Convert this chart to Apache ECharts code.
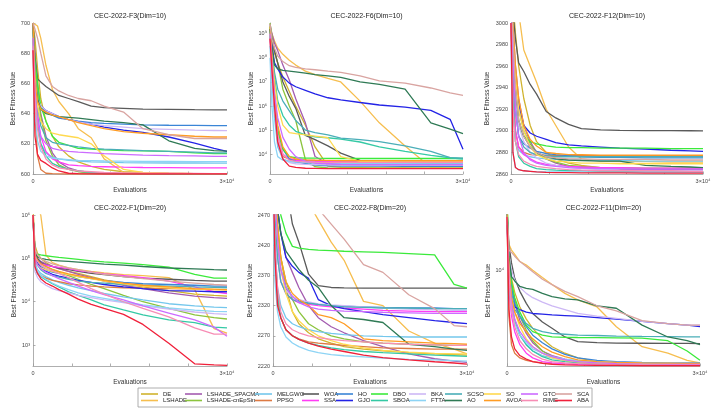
<!DOCTYPE html>
<html>
<head>
<meta charset="utf-8">
<title>CEC-2022 convergence curves</title>
<script src="https://cdn.jsdelivr.net/npm/echarts@6.0.0/dist/echarts.min.js"></script>
<style>
  html, body { margin: 0; padding: 0; background: #fff; }
  #chart { width: 724px; height: 412px; }
</style>
</head>
<body>
<div id="chart"></div>
<script>
// evaluation counts at which each curve is sampled
const evals = [0, 300, 700, 1200, 2000, 3000, 4000, 5500, 7000, 9000, 11000, 14000, 17000, 21000, 25000, 28000, 30000];

const algorithms = ['DE', 'LSHADE', 'LSHADE_SPACMA', 'LSHADE-cnEpSin', 'MELGWO', 'PPSO', 'WOA', 'SSA', 'HO', 'GJO', 'DBO',
  'SBOA', 'BKA', 'FTTA', 'SCSO', 'AO', 'SO', 'AVOA', 'GTO', 'RIME', 'SCA', 'ABA'];
const colors = ['#d0b32e', '#f6be4f', '#a45cb0', '#8cc43e', '#74c7ec', '#dd7a43', '#5a5a5a', '#ff3df5', '#3a85d6', '#2323e6', '#3bea3b',
  '#35c9a5', '#cdb8f5', '#8dd4f5', '#4aaeb8', '#2f7a55', '#ffd94f', '#ff9c24', '#cc6bff', '#f78db5', '#d9a4a1', '#f0203a'];

const titles = ['CEC-2022-F3(Dim=10)', 'CEC-2022-F6(Dim=10)', 'CEC-2022-F12(Dim=10)',
  'CEC-2022-F1(Dim=20)', 'CEC-2022-F8(Dim=20)', 'CEC-2022-F11(Dim=20)'];

const f6Ticks = [1e4, 1e5, 1e6, 1e7, 1e8, 1e9];
const f1Ticks = [1e3, 1e4, 1e5, 1e6];
const f8Ticks = [2220, 2270, 2320, 2370, 2420, 2470];
const f11Ticks = [1e4];

// one row per algorithm, same order as `algorithms`
const f3Dim10 = [
  [700, 690, 670, 650, 635, 625, 618, 612, 608, 605, 603, 601.5, 601, 600.5, 600.3, 600.2, 600.2],
  [700, 700, 698, 690, 672, 656, 648, 640, 630, 624, 610, 601, 600.3, 600.2, 600.1, 600, 600],
  [695, 680, 660, 640, 625, 614, 608, 604, 602, 601, 600.5, 600.2, 600.1, 600, 600, 600, 600],
  [690, 675, 655, 638, 622, 612, 606, 603, 601.5, 600.8, 600.4, 600.2, 600.1, 600, 600, 600, 600],
  [685, 655, 632, 620, 614, 611, 610, 609, 608.5, 608, 607.8, 607.5, 607.4, 607.3, 607.3, 607.2, 607.2],
  [682, 640, 612, 603, 600.5, 600.2, 600.1, 600, 600, 600, 600, 600, 600, 600, 600, 600, 600],
  [700, 678, 663, 661, 658, 655, 652, 650, 648, 645, 644, 643.5, 643, 642.8, 642.6, 642.5, 642.5],
  [690, 660, 640, 625, 615, 610, 608, 606, 605.5, 605, 604.8, 604.5, 604.3, 604.2, 604.1, 604, 604],
  [700, 660, 648, 645, 641, 639, 637, 636, 635, 634, 633.5, 633, 632.5, 632.3, 632.2, 632, 632],
  [700, 660, 648, 645, 642, 640, 638, 636, 634.5, 633, 631, 629, 627.5, 624.5, 620.5, 617, 615],
  [695, 675, 660, 645, 635, 625, 621, 619, 617, 616.5, 616, 615.5, 615.3, 615, 614, 613.5, 613.5],
  [690, 660, 635, 620, 612, 607, 605, 603, 602, 601, 600.5, 600.3, 600.2, 600.1, 600, 600, 600],
  [700, 665, 650, 645, 642, 640, 638, 636, 634.5, 633, 632, 631, 630, 629.5, 629, 628.8, 628.7],
  [680, 640, 622, 615, 612, 610.5, 610, 609.5, 609, 608.8, 608.6, 608.5, 608.4, 608.3, 608.2, 608.2, 608.2],
  [690, 665, 645, 632, 624, 621, 620, 619, 618, 617, 616.5, 616, 615.5, 615, 614.5, 614, 614],
  [700, 665, 650, 643, 640, 639, 638, 637.5, 637, 636, 635, 634, 632.5, 622, 617, 615.5, 615.2],
  [690, 665, 645, 635, 630, 627, 626, 625, 624, 620, 612, 603, 601, 600.5, 600.3, 600.2, 600.2],
  [700, 660, 648, 643, 641, 639, 638, 636, 634, 632, 630, 628, 627, 626, 625, 624.5, 624.5],
  [690, 655, 635, 625, 620, 617, 616, 615, 614.5, 614, 613.5, 613, 612.5, 612.2, 612, 611.7, 611.7],
  [685, 650, 630, 618, 610, 606, 604, 603, 602, 601.5, 601, 600.8, 600.6, 600.5, 600.4, 600.3, 600.3],
  [700, 696, 690, 680, 665, 658, 655, 652, 650, 648.5, 645, 641, 630, 626, 623.5, 623.5, 623.5],
  [682, 625, 613, 609, 607, 604, 602, 600.5, 600.2, 600.1, 600, 600, 600, 600, 600, 600, 600]
];

const f6Dim10 = [
  [1.6e9, 4e8, 1.6e8, 6.3e7, 1.6e7, 4e6, 1e6, 1.6e5, 2e4, 3.2e3, 2.8e3, 2.75e3, 2.7e3, 2.7e3, 2.6e3, 2.6e3, 2.6e3],
  [2e9, 1e9, 5e8, 2.5e8, 1.4e8, 7.9e7, 5e7, 2.8e7, 2e7, 1.4e7, 1e7, 1.6e6, 2e5, 2.2e4, 2.8e3, 2.6e3, 2.6e3],
  [2.5e9, 1e9, 4e8, 2e8, 5e7, 1.2e7, 2e6, 2e5, 8e3, 4e3, 3.5e3, 3.5e3, 3.5e3, 3.5e3, 3.5e3, 3.5e3, 3.5e3],
  [2.8e9, 8e8, 2e8, 6e7, 5e6, 1e6, 2.5e5, 6e3, 3e3, 2.7e3, 2.6e3, 2.6e3, 2.6e3, 2.6e3, 2.6e3, 2.6e3, 2.6e3],
  [3.2e8, 1e7, 3.2e5, 2e4, 6.3e3, 5e3, 4.6e3, 4.4e3, 4.3e3, 4.2e3, 4.2e3, 4.2e3, 4.2e3, 4.2e3, 4.2e3, 4.2e3, 4.2e3],
  [1e9, 6.3e7, 1e6, 3.2e4, 7.9e3, 6.3e3, 5.9e3, 5.6e3, 5.5e3, 5.4e3, 5.2e3, 5.2e3, 5.2e3, 5.2e3, 5.2e3, 5.2e3, 5.2e3],
  [1.6e9, 6.3e8, 2e8, 6e7, 1e7, 2.5e6, 8e5, 6e4, 4e4, 2.2e4, 1.1e4, 5.5e3, 4.8e3, 4.6e3, 4.5e3, 4.5e3, 4.5e3],
  [1e9, 3.2e7, 1e6, 6.3e4, 1e4, 6.3e3, 5.5e3, 5.2e3, 5e3, 4.9e3, 4.8e3, 4.7e3, 4.7e3, 4.7e3, 4.7e3, 4.7e3, 4.7e3],
  [1e9, 6.3e7, 2e6, 1e5, 1.6e4, 6.3e3, 5e3, 4e3, 3.5e3, 3.3e3, 3.2e3, 3.2e3, 3.2e3, 3.1e3, 3.1e3, 3.1e3, 3.1e3],
  [1.6e9, 3.2e8, 6.3e7, 3.5e7, 1.6e7, 8.9e6, 6.3e6, 4.5e6, 3.2e6, 2.2e6, 1.8e6, 1.4e6, 1.1e6, 8.9e5, 6.6e5, 2.8e5, 1.6e4],
  [2e9, 1e8, 3.2e6, 1e5, 1.6e4, 7.9e3, 7.1e3, 6.9e3, 6.8e3, 6.7e3, 6.6e3, 6.6e3, 6.6e3, 6.6e3, 6.6e3, 6.6e3, 6.6e3],
  [1e9, 1.6e8, 1.6e7, 1.6e6, 4e5, 1.6e5, 8.9e4, 6.3e4, 5.2e4, 4.8e4, 4.2e4, 3.2e4, 2e4, 1.3e4, 8.9e3, 7.1e3, 6.3e3],
  [6.3e8, 3.2e7, 1e6, 3.2e4, 6.3e3, 4.5e3, 4e3, 3.8e3, 3.7e3, 3.6e3, 3.5e3, 3.5e3, 3.5e3, 3.5e3, 3.5e3, 3.5e3, 3.5e3],
  [1e8, 1e6, 3.2e4, 7.9e3, 5.6e3, 5e3, 4.8e3, 4.6e3, 4.5e3, 4.4e3, 4.3e3, 4.3e3, 4.3e3, 4.3e3, 4.3e3, 4.3e3, 4.3e3],
  [1.3e9, 2e8, 2.5e7, 5e6, 1.6e6, 6.3e5, 2.5e5, 1e5, 7.9e4, 6.3e4, 4.6e4, 4e4, 3.3e4, 2.2e4, 1.3e4, 7.2e3, 6.9e3],
  [1.6e9, 2.5e8, 5e7, 3.5e7, 3e7, 2.8e7, 2.6e7, 2.3e7, 2e7, 1.8e7, 1.55e7, 1e7, 7.9e6, 5e6, 2e5, 1.1e5, 7.2e4],
  [1e9, 1e8, 1e7, 1e6, 1.6e5, 7.9e4, 7.1e4, 6.3e4, 5.6e4, 4.8e4, 7.9e3, 5e3, 4.9e3, 4.8e3, 4.8e3, 4.8e3, 4.8e3],
  [2e9, 1e8, 3.2e6, 1.6e5, 2e4, 7.9e3, 6.3e3, 5.8e3, 5.6e3, 5.5e3, 5.4e3, 5.4e3, 5.4e3, 5.4e3, 5.4e3, 5.4e3, 5.4e3],
  [1e9, 6.3e7, 3.2e6, 3.2e5, 5e4, 1.6e4, 7.9e3, 5e3, 4.2e3, 4e3, 3.8e3, 3.7e3, 3.7e3, 3.7e3, 3.7e3, 3.7e3, 3.7e3],
  [6.3e8, 3.2e7, 1e6, 6.3e4, 1e4, 5.6e3, 5e3, 4.8e3, 4.7e3, 4.6e3, 4.6e3, 4.6e3, 4.6e3, 4.6e3, 4.6e3, 4.6e3, 4.6e3],
  [2.5e9, 6e8, 2.5e8, 1.2e8, 7e7, 4.7e7, 4e7, 3.5e7, 3.2e7, 2.8e7, 2.5e7, 1.8e7, 1.1e7, 8.9e6, 5.6e6, 3.5e6, 2.75e6],
  [6.3e8, 3.2e7, 1e6, 3.2e4, 6.3e3, 3.2e3, 2.8e3, 2.6e3, 2.55e3, 2.5e3, 2.5e3, 2.5e3, 2.5e3, 2.5e3, 2.5e3, 2.5e3, 2.5e3]
];

const f12Dim10 = [
  [3050, 3020, 2990, 2960, 2930, 2905, 2890, 2880, 2874, 2870, 2868, 2866, 2865, 2865, 2864.5, 2864.5, 2864.5],
  [3100, 3080, 3050, 3010, 2975, 2960, 2945, 2920, 2905, 2885, 2874, 2872, 2871.5, 2871.5, 2871, 2871, 2871],
  [3050, 3000, 2960, 2930, 2905, 2890, 2880, 2874, 2870, 2867, 2866, 2865, 2864.5, 2864, 2864, 2864, 2864],
  [3050, 2990, 2950, 2920, 2900, 2888, 2880, 2874, 2871, 2868, 2867, 2866, 2866, 2865.5, 2865.5, 2865.5, 2865.5],
  [3000, 2920, 2890, 2882, 2878, 2876, 2875, 2874, 2873.5, 2873, 2873, 2872.5, 2872.5, 2872, 2872, 2872, 2872],
  [3000, 2950, 2900, 2885, 2880, 2878, 2877.5, 2877.5, 2877, 2877, 2877, 2877, 2877, 2877, 2877, 2877, 2877],
  [3050, 3010, 2985, 2963, 2955, 2943, 2934, 2918, 2912, 2906, 2902, 2901, 2900.5, 2900.3, 2900.2, 2900.1, 2900],
  [3000, 2940, 2900, 2885, 2878, 2874, 2871, 2869, 2868, 2867, 2866.5, 2866, 2866, 2865.5, 2865.5, 2865.5, 2865.5],
  [3050, 2980, 2920, 2895, 2888, 2884, 2881, 2879, 2878, 2877, 2876, 2875.5, 2875.5, 2875, 2875, 2875, 2875],
  [3050, 2990, 2940, 2925, 2905, 2898, 2895, 2892, 2889, 2887, 2886, 2885, 2884, 2883, 2882, 2881.5, 2881],
  [3050, 2990, 2930, 2905, 2895, 2890, 2888, 2886, 2885, 2884.5, 2884.5, 2884, 2884, 2884, 2883.5, 2883.5, 2883.5],
  [3000, 2930, 2890, 2876, 2870, 2867, 2865, 2864, 2863.5, 2863, 2863, 2862.5, 2862.5, 2862.5, 2862.5, 2862.5, 2862.5],
  [3050, 2980, 2930, 2905, 2890, 2880, 2875, 2870, 2868, 2866, 2865, 2864, 2863.5, 2863, 2863, 2863, 2863],
  [2980, 2880, 2866, 2864, 2863, 2862.5, 2862, 2862, 2862, 2862, 2862, 2861.5, 2861.5, 2861.5, 2861.5, 2861.5, 2861.5],
  [3050, 2970, 2920, 2895, 2885, 2880, 2878, 2877, 2876, 2876, 2876, 2876, 2876, 2876, 2876, 2876, 2876],
  [3050, 2990, 2940, 2910, 2895, 2885, 2880, 2876, 2874, 2873, 2872.5, 2872, 2872, 2868, 2867, 2866.5, 2866],
  [3050, 2990, 2950, 2920, 2900, 2885, 2878, 2874, 2872, 2871, 2870, 2870, 2869.5, 2869.5, 2869.5, 2869.5, 2869.5],
  [3050, 3000, 2960, 2930, 2905, 2892, 2886, 2880, 2879, 2878, 2878, 2877.5, 2877.5, 2877.5, 2877.5, 2877.5, 2877.5],
  [3050, 2970, 2920, 2895, 2880, 2873, 2870, 2868, 2867, 2866, 2865.5, 2865, 2865, 2864.5, 2864.5, 2864.5, 2864.5],
  [3000, 2920, 2890, 2878, 2872, 2869, 2867, 2866, 2865, 2864, 2863.5, 2863, 2863, 2863, 2863, 2862.5, 2862.5],
  [3050, 2990, 2940, 2910, 2895, 2885, 2880, 2876, 2875, 2874, 2874, 2873.5, 2873.5, 2873.5, 2873, 2873, 2873],
  [3000, 2880, 2866, 2864, 2863, 2862.5, 2862, 2861.5, 2861.3, 2861.2, 2861.1, 2861, 2861, 2860.9, 2860.8, 2860.8, 2860.8]
];

const f1Dim20 = [
  [1.5e6, 2e5, 1.3e5, 1e5, 8e4, 6.5e4, 5.8e4, 5e4, 4.5e4, 3.8e4, 3.2e4, 2.6e4, 2.2e4, 1.8e4, 1.5e4, 1.4e4, 1.35e4],
  [1.5e6, 1.5e6, 1.5e6, 1e6, 1.2e5, 8e4, 7e4, 6e4, 5.5e4, 5e4, 4.6e4, 4.2e4, 4e4, 3.6e4, 1.9e4, 2.4e3, 1.9e3],
  [1e6, 1.5e5, 1e5, 8.5e4, 7.5e4, 6.5e4, 5.8e4, 5e4, 4.3e4, 3.6e4, 3e4, 2.4e4, 2e4, 1.6e4, 1.35e4, 1.25e4, 1.2e4],
  [1e6, 1.2e5, 9e4, 7.5e4, 6.5e4, 5.5e4, 4.8e4, 4e4, 3.3e4, 2.5e4, 2e4, 1.4e4, 1e4, 7e3, 5e3, 4.3e3, 4e3],
  [1e6, 8e4, 5.5e4, 4.5e4, 3.8e4, 3.2e4, 2.8e4, 2.4e4, 2.1e4, 1.8e4, 1.55e4, 1.3e4, 1.1e4, 9e3, 8e3, 7.5e3, 7.3e3],
  [1e6, 6e4, 4.9e4, 4e4, 3.5e4, 3.1e4, 2.9e4, 2.6e4, 2.45e4, 2.3e4, 2.2e4, 2.1e4, 2.05e4, 2e4, 1.95e4, 1.9e4, 1.9e4],
  [1e6, 1.5e5, 1e5, 8e4, 7e4, 6.5e4, 6e4, 5.5e4, 5e4, 4.5e4, 4.2e4, 3.8e4, 3.5e4, 3.3e4, 3.1e4, 3e4, 3e4],
  [1e6, 1e5, 8.5e4, 7.5e4, 7e4, 6.5e4, 6.2e4, 5.8e4, 5.2e4, 4.8e4, 4.4e4, 4e4, 3.6e4, 3e4, 2.2e4, 1.7e4, 1.55e4],
  [1e6, 1.2e5, 8e4, 6.5e4, 5.5e4, 4.8e4, 4.5e4, 4.2e4, 3.8e4, 3.4e4, 3.1e4, 2.8e4, 2.6e4, 2.5e4, 2.4e4, 2.3e4, 2.3e4],
  [1e6, 1.1e5, 7.5e4, 6e4, 5e4, 4.3e4, 3.9e4, 3.5e4, 3.1e4, 2.8e4, 2.5e4, 2.2e4, 2e4, 1.8e4, 1.75e4, 1.7e4, 1.7e4],
  [1e6, 1.3e5, 1.25e5, 1.2e5, 1.15e5, 1.1e5, 1.05e5, 1e5, 9.5e4, 8.8e4, 8.3e4, 7.8e4, 7.2e4, 6.3e4, 4.3e4, 3.5e4, 3.5e4],
  [1e6, 6e4, 4.5e4, 3.8e4, 3.2e4, 2.6e4, 2.2e4, 1.7e4, 1.4e4, 1.1e4, 8.5e3, 6.5e3, 5e3, 3.8e3, 3.3e3, 2.6e3, 2.5e3],
  [1e6, 5e4, 3.6e4, 2.9e4, 2.4e4, 2e4, 1.8e4, 1.6e4, 1.4e4, 1.25e4, 1.1e4, 9.5e3, 8e3, 6.8e3, 5.8e3, 5.3e3, 5.1e3],
  [1e6, 7e4, 5e4, 4e4, 3.3e4, 2.7e4, 2.3e4, 1.9e4, 1.6e4, 1.35e4, 1.2e4, 1e4, 8.5e3, 7.2e3, 6.4e3, 6e3, 5.9e3],
  [1e6, 1e5, 7e4, 5.5e4, 4.5e4, 4e4, 3.7e4, 3.3e4, 3e4, 2.8e4, 2.7e4, 2.5e4, 2.4e4, 2.3e4, 2.2e4, 2.15e4, 2.1e4],
  [1e6, 1.5e5, 1.1e5, 1e5, 9.5e4, 9e4, 8.8e4, 8.5e4, 8.2e4, 7.8e4, 7.4e4, 7e4, 6.5e4, 6e4, 5.7e4, 5.5e4, 5.4e4],
  [1e6, 9e4, 7e4, 6e4, 5.5e4, 5e4, 4.6e4, 4.2e4, 3.8e4, 3.4e4, 3e4, 2.6e4, 2.3e4, 2.1e4, 1.95e4, 1.9e4, 1.85e4],
  [1e6, 1.2e5, 9e4, 7.5e4, 6.5e4, 5.6e4, 5e4, 4.4e4, 4e4, 3.5e4, 3.1e4, 2.7e4, 2.4e4, 2.2e4, 2e4, 1.95e4, 1.9e4],
  [1e6, 9e4, 7e4, 5.8e4, 4.8e4, 4e4, 3.4e4, 2.8e4, 2.3e4, 1.8e4, 1.45e4, 1.1e4, 8e3, 5.5e3, 3.8e3, 2.6e3, 1.6e3],
  [1e6, 1.1e5, 8.5e4, 7e4, 6e4, 5.2e4, 4.5e4, 3.6e4, 2.8e4, 2e4, 1.5e4, 1e4, 7e3, 4.5e3, 2.5e3, 1.8e3, 1.8e3],
  [1e6, 1.6e5, 1.2e5, 1e5, 8.5e4, 7.5e4, 6.8e4, 6e4, 5.5e4, 4.8e4, 4.3e4, 3.8e4, 3.4e4, 3e4, 2.7e4, 2.5e4, 2.4e4],
  [1e6, 6.5e4, 4.5e4, 3.4e4, 2.7e4, 2.3e4, 1.9e4, 1.5e4, 1.15e4, 8.7e3, 7e3, 5.1e3, 3e3, 1.1e3, 370, 350, 340]
];

const f8Dim20 = [
  [2600, 2520, 2460, 2400, 2350, 2310, 2290, 2275, 2265, 2258, 2252, 2248, 2245, 2242, 2240, 2239, 2238],
  [2700, 2650, 2600, 2580, 2560, 2540, 2520, 2490, 2462, 2425, 2395, 2327, 2320, 2278, 2258, 2248, 2240],
  [2650, 2550, 2480, 2440, 2400, 2375, 2350, 2320, 2300, 2285, 2275, 2262, 2252, 2240, 2232, 2228, 2226],
  [2600, 2500, 2440, 2400, 2360, 2330, 2310, 2290, 2280, 2270, 2265, 2260, 2258, 2256, 2255, 2254, 2254],
  [2550, 2420, 2350, 2320, 2300, 2290, 2285, 2280, 2277, 2274, 2272, 2270, 2269, 2268, 2268, 2268, 2268],
  [2550, 2400, 2330, 2300, 2280, 2270, 2265, 2260, 2258, 2256, 2254, 2252, 2250, 2249, 2248, 2248, 2248],
  [2700, 2650, 2600, 2560, 2520, 2455, 2425, 2372, 2353, 2350, 2349.5, 2349, 2349, 2349, 2349, 2349, 2349],
  [2600, 2480, 2400, 2360, 2340, 2330, 2325, 2322, 2320, 2318, 2316, 2314, 2312, 2311, 2310, 2310, 2310],
  [2600, 2480, 2420, 2380, 2350, 2335, 2328, 2324, 2322, 2320, 2319, 2318, 2317, 2316, 2316, 2315, 2315],
  [2650, 2550, 2480, 2440, 2400, 2385, 2375, 2365, 2330, 2320, 2315, 2310, 2305, 2300, 2295, 2292, 2290],
  [2650, 2550, 2500, 2470, 2440, 2418, 2415, 2413, 2412, 2411, 2410, 2409, 2408, 2406, 2404, 2355, 2349],
  [2550, 2420, 2340, 2300, 2280, 2270, 2264, 2258, 2254, 2250, 2247, 2244, 2242, 2240, 2238, 2237, 2236],
  [2600, 2480, 2400, 2360, 2345, 2335, 2330, 2326, 2323, 2321, 2320, 2318, 2316, 2314, 2313, 2312, 2312],
  [2500, 2360, 2310, 2285, 2268, 2258, 2252, 2246, 2242, 2239, 2237, 2235, 2233, 2231, 2230, 2229, 2228],
  [2600, 2470, 2400, 2360, 2340, 2330, 2326, 2324, 2322, 2320, 2318, 2317, 2316, 2316, 2315, 2315, 2315],
  [2650, 2550, 2480, 2440, 2410, 2395, 2380, 2362, 2350, 2320, 2300, 2297, 2292, 2256, 2252, 2248, 2246],
  [2600, 2500, 2430, 2380, 2340, 2310, 2295, 2280, 2270, 2262, 2256, 2250, 2246, 2243, 2241, 2240, 2240],
  [2650, 2550, 2450, 2400, 2360, 2340, 2330, 2320, 2305, 2300, 2290, 2265, 2262, 2260, 2258, 2257, 2256],
  [2600, 2500, 2430, 2380, 2350, 2335, 2325, 2318, 2314, 2312, 2311, 2310, 2309, 2308, 2307, 2307, 2307],
  [2550, 2420, 2350, 2310, 2290, 2280, 2275, 2270, 2267, 2264, 2262, 2260, 2258, 2256, 2255, 2254, 2254],
  [2700, 2650, 2620, 2600, 2580, 2560, 2540, 2510, 2480, 2455, 2430, 2388, 2375, 2338, 2315, 2287, 2285],
  [2550, 2400, 2320, 2300, 2280, 2270, 2264, 2258, 2253, 2248, 2244, 2238, 2234, 2230, 2227, 2225, 2223]
];

const f11Dim20 = [
  [2.2e4, 1.2e4, 9e3, 7.5e3, 6.2e3, 5.3e3, 4.7e3, 4.1e3, 3.7e3, 3.4e3, 3.2e3, 3.05e3, 3e3, 2.95e3, 2.93e3, 2.92e3, 2.92e3],
  [1.8e4, 1.4e4, 1.3e4, 1.23e4, 1.12e4, 1.07e4, 1e4, 9.1e3, 8.3e3, 7.4e3, 6.8e3, 6.2e3, 4.8e3, 3.7e3, 3.4e3, 3.1e3, 3e3],
  [2.2e4, 1.1e4, 8e3, 6.5e3, 5.2e3, 4.4e3, 3.9e3, 3.5e3, 3.3e3, 3.15e3, 3.05e3, 3e3, 2.97e3, 2.95e3, 2.94e3, 2.93e3, 2.93e3],
  [2.5e4, 1.2e4, 8.5e3, 6.8e3, 5.5e3, 4.6e3, 4e3, 3.5e3, 3.25e3, 3.1e3, 3.02e3, 2.98e3, 2.96e3, 2.95e3, 2.94e3, 2.94e3, 2.94e3],
  [2e4, 9e3, 6.5e3, 5.2e3, 4.3e3, 3.8e3, 3.5e3, 3.3e3, 3.2e3, 3.1e3, 3.05e3, 3.02e3, 3e3, 2.98e3, 2.97e3, 2.97e3, 2.96e3],
  [2e4, 5.5e3, 3.8e3, 3.4e3, 3.2e3, 3.1e3, 3.05e3, 3e3, 2.98e3, 2.96e3, 2.95e3, 2.94e3, 2.93e3, 2.92e3, 2.92e3, 2.92e3, 2.92e3],
  [2.2e4, 1.4e4, 1.1e4, 9e3, 7.6e3, 6.5e3, 5.7e3, 5.1e3, 4.7e3, 4.2e3, 3.95e3, 3.9e3, 3.88e3, 3.87e3, 3.86e3, 3.86e3, 3.85e3],
  [2e4, 8e3, 5.5e3, 4.5e3, 3.8e3, 3.4e3, 3.2e3, 3.05e3, 3e3, 2.96e3, 2.94e3, 2.93e3, 2.92e3, 2.91e3, 2.9e3, 2.9e3, 2.9e3],
  [2.2e4, 1.1e4, 8e3, 6.5e3, 5.5e3, 4.8e3, 4.3e3, 3.9e3, 3.6e3, 3.35e3, 3.2e3, 3.1e3, 3.05e3, 3.02e3, 3e3, 3e3, 3e3],
  [2.2e4, 1e4, 7e3, 6.2e3, 6e3, 5.8e3, 5.7e3, 5.65e3, 5.6e3, 5.55e3, 5.5e3, 5.4e3, 5.3e3, 5.15e3, 5e3, 4.9e3, 4.8e3],
  [2.5e4, 1.2e4, 8.5e3, 7e3, 5.8e3, 4.9e3, 4.5e3, 4.3e3, 4.2e3, 4.18e3, 4.17e3, 4.16e3, 4.15e3, 4.14e3, 4e3, 3.5e3, 3.1e3],
  [2.2e4, 9e3, 6.5e3, 5.2e3, 4.3e3, 3.8e3, 3.5e3, 3.25e3, 3.12e3, 3.05e3, 3e3, 2.97e3, 2.95e3, 2.94e3, 2.93e3, 2.93e3, 2.93e3],
  [2.2e4, 1.2e4, 1e4, 8.8e3, 8e3, 7.4e3, 7e3, 6.6e3, 6.3e3, 6e3, 5.7e3, 5.5e3, 5.35e3, 5.15e3, 5e3, 4.9e3, 4.9e3],
  [2e4, 8e3, 6e3, 5e3, 4.3e3, 3.9e3, 3.6e3, 3.4e3, 3.25e3, 3.15e3, 3.1e3, 3.05e3, 3.02e3, 3e3, 2.99e3, 2.98e3, 2.98e3],
  [2.2e4, 1.1e4, 7.5e3, 6e3, 5.5e3, 5e3, 4.7e3, 4.5e3, 4.4e3, 4.35e3, 4.3e3, 4.28e3, 4.25e3, 4.23e3, 4.22e3, 4.2e3, 4.2e3],
  [1.8e4, 1.2e4, 9.2e3, 8.7e3, 8.1e3, 7.9e3, 7.8e3, 7.4e3, 7.1e3, 6.9e3, 6.8e3, 6.3e3, 6.1e3, 4.9e3, 4.2e3, 4e3, 3.8e3],
  [2e4, 1e4, 7e3, 5.8e3, 4.8e3, 4.1e3, 3.7e3, 3.4e3, 3.2e3, 3.1e3, 3.04e3, 3e3, 2.98e3, 2.96e3, 2.95e3, 2.95e3, 2.95e3],
  [2.2e4, 1e4, 7e3, 5.8e3, 5e3, 4.5e3, 4.1e3, 3.7e3, 3.45e3, 3.25e3, 3.12e3, 3.05e3, 3.02e3, 3e3, 2.99e3, 2.98e3, 2.98e3],
  [2e4, 9e3, 6.5e3, 5.3e3, 4.5e3, 4e3, 3.7e3, 3.4e3, 3.25e3, 3.12e3, 3.05e3, 3e3, 2.97e3, 2.95e3, 2.94e3, 2.94e3, 2.94e3],
  [2e4, 9e3, 6e3, 4.8e3, 4e3, 3.6e3, 3.35e3, 3.15e3, 3.05e3, 3e3, 2.97e3, 2.95e3, 2.93e3, 2.92e3, 2.91e3, 2.91e3, 2.91e3],
  [2e4, 1.3e4, 1.26e4, 1.2e4, 1.12e4, 1.05e4, 9.8e3, 8.9e3, 8.3e3, 7.6e3, 7.1e3, 6.3e3, 5.9e3, 5.2e3, 5e3, 4.9e3, 4.9e3],
  [2e4, 6e3, 4.2e3, 3.6e3, 3.3e3, 3.15e3, 3.05e3, 2.98e3, 2.94e3, 2.92e3, 2.91e3, 2.9e3, 2.9e3, 2.89e3, 2.89e3, 2.89e3, 2.89e3]
];

const FONT = 'Liberation Sans, Arial, sans-serif';
const SUP = { '0': '⁰', '1': '¹', '2': '²', '3': '³', '4': '⁴', '5': '⁵', '6': '⁶', '7': '⁷', '8': '⁸', '9': '⁹' };
function pow10Label(v) {
  const e = Math.round(Math.log10(v));
  return '10' + String(e).split('').map(c => SUP[c]).join('');
}

// panel layout: plot boxes in pixels
const panels = [
  { curves: f3Dim10, left: 33, top: 23, width: 194, yGap: 15, y: { type: 'value', min: 600, max: 700, interval: 20 } },
  { curves: f6Dim10, left: 270, top: 23, width: 193, yGap: 15, y: { type: 'log', min: 1500, max: 2.8e9, ticks: f6Ticks } },
  { curves: f12Dim10, left: 511, top: 23, width: 192, yGap: 20, y: { type: 'value', min: 2860, max: 3000, interval: 20 } },
  { curves: f1Dim20, left: 33, top: 215, width: 194, yGap: 15, y: { type: 'log', min: 330, max: 1e6, ticks: f1Ticks } },
  { curves: f8Dim20, left: 273, top: 215, width: 194, yGap: 18, y: { type: 'value', min: 2220, max: 2470, ticks: f8Ticks } },
  { curves: f11Dim20, left: 507, top: 215, width: 193, yGap: 15, y: { type: 'log', min: 2880, max: 2.05e4, ticks: f11Ticks } }
];
const PLOT_H = 151;

const axisColor = '#9a9a9a';
const labelStyle = { fontSize: 5.5, color: '#444', fontFamily: FONT };
const nameStyle = { fontSize: 6.5, color: '#333', fontFamily: FONT };

const grid = [], xAxis = [], yAxis = [], title = [], series = [];
panels.forEach((p, k) => {
  grid.push({ left: p.left, top: p.top, width: p.width, height: PLOT_H });
  title.push({
    text: titles[k], left: p.left + p.width / 2, top: p.top - 10, textAlign: 'center', padding: 0,
    textStyle: { fontSize: 7, fontWeight: 'normal', color: '#222', fontFamily: FONT }
  });
  xAxis.push({
    type: 'value', gridIndex: k, min: 0, max: 30000, interval: 6000,
    name: 'Evaluations', nameLocation: 'middle', nameGap: 13, nameTextStyle: nameStyle,
    axisLine: { lineStyle: { color: axisColor, width: 0.8 } },
    axisTick: { inside: true, length: 2.5, lineStyle: { color: axisColor, width: 0.8 } },
    splitLine: { show: false },
    axisLabel: {
      ...labelStyle, margin: 4, showMinLabel: true, showMaxLabel: true,
      formatter: v => (v === 0 ? '0' : v === 30000 ? '3×10⁴' : '')
    }
  });
  const ya = {
    type: p.y.type, gridIndex: k, min: p.y.min, max: p.y.max,
    name: 'Best Fitness Value', nameLocation: 'middle', nameGap: p.yGap, nameTextStyle: nameStyle,
    axisLine: { show: true, lineStyle: { color: axisColor, width: 0.8 } },
    axisTick: { show: true, inside: true, length: 2.5, lineStyle: { color: axisColor, width: 0.8 } },
    splitLine: { show: false },
    axisLabel: { ...labelStyle, margin: 3, formatter: v => String(v) }
  };
  if (p.y.interval) ya.interval = p.y.interval;
  if (p.y.ticks) {
    ya.axisLabel.customValues = p.y.ticks;
    ya.axisTick.customValues = p.y.ticks;
  }
  if (p.y.type === 'log') {
    ya.logBase = 10;
    ya.axisLabel.formatter = pow10Label;
  }
  yAxis.push(ya);

  p.curves.forEach((vals, i) => {
    series.push({
      type: 'line', name: algorithms[i], xAxisIndex: k, yAxisIndex: k,
      showSymbol: false, symbol: 'none', silent: true, clip: true,
      lineStyle: { width: 1.3, color: colors[i] }, itemStyle: { color: colors[i] },
      emphasis: { disabled: true },
      data: evals.map((x, j) => [x, vals[j]])
    });
  });
});

// legend: 11 columns of 2 entries, like the MATLAB legend box
const legendLefts = [141, 185, 255, 302, 336, 371, 409, 445, 484, 521, 555];
const legend = legendLefts.map((left, c) => ({
  orient: 'vertical', left: left, top: 391, padding: 0, itemGap: 0.5,
  itemWidth: 17, itemHeight: 1.6, icon: 'rect', selectedMode: false, z: 20,
  textStyle: { fontSize: 6, lineHeight: 6, color: '#222', fontFamily: FONT },
  data: [algorithms[2 * c], algorithms[2 * c + 1]]
}));

const chart = echarts.init(document.getElementById('chart'), null, { renderer: 'canvas' });
chart.setOption({
  animation: false,
  backgroundColor: '#fff',
  title, grid, xAxis, yAxis, legend, series,
  graphic: [{
    type: 'rect', z: 10, silent: true,
    shape: { x: 138, y: 388, width: 454, height: 19 },
    style: { fill: '#fff', stroke: '#9a9a9a', lineWidth: 0.8 }
  }]
});
</script>
</body>
</html>
